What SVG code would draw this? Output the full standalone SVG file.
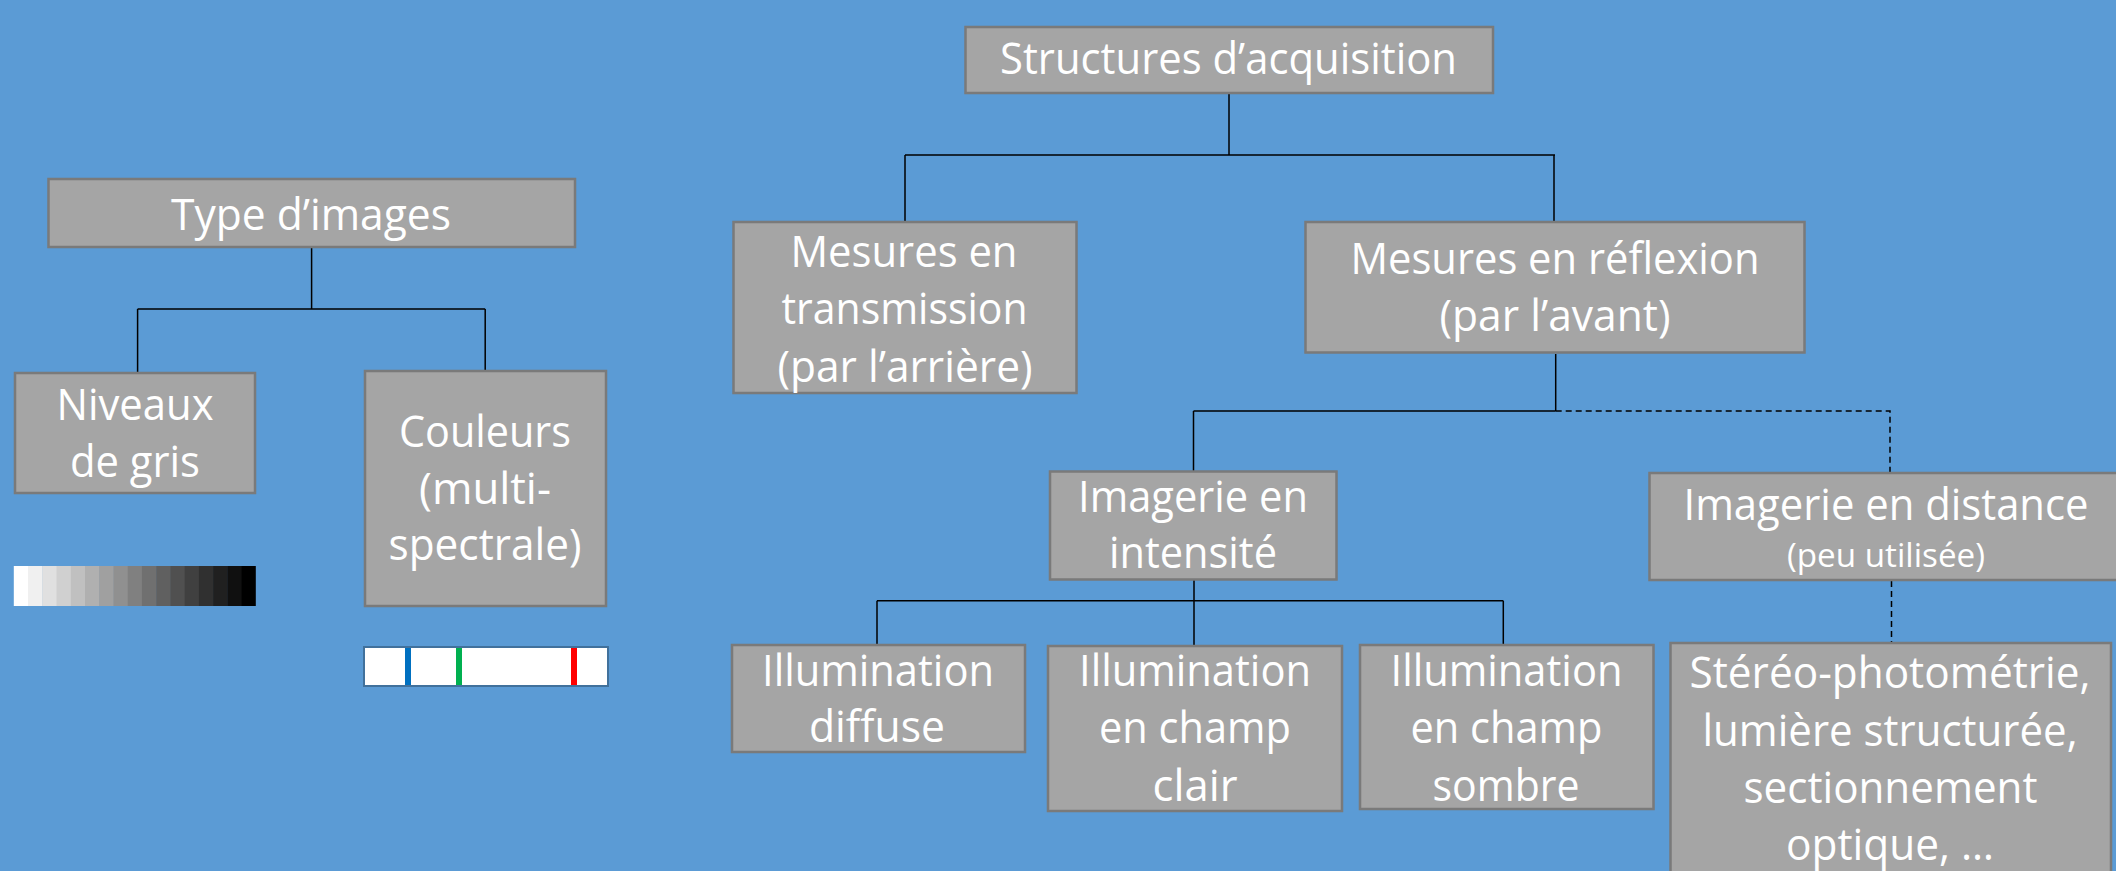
<svg xmlns="http://www.w3.org/2000/svg" width="2116" height="871" viewBox="0 0 2116 871">
<style>
.box{fill:#a5a5a5;stroke:#7a7a7a;stroke-width:2.5}
.t{font-family:"Open Sans","Noto Sans",sans-serif;font-size:44px;fill:#ffffff;text-anchor:middle}
.s{font-size:32px}
.c{fill:none;stroke:#000000;stroke-width:1.5}
.d{stroke-dasharray:6 4}
</style>
<rect x="0" y="0" width="2116" height="871" fill="#5b9bd5"/>
<g id="connectors">
<path class="c" d="M311.6,248V309M137.6,309H485.2M137.6,309V372M485.2,309V370"/>
<path class="c" d="M1229,94V155M905,155H1555M905,155V221M1554,155V221"/>
<path class="c" d="M1555.7,354V411M1193.5,411H1555.7M1193.5,411V471"/>
<path class="c d" d="M1555.7,411H1890V472"/>
<path class="c d" d="M1891.5,581V642"/>
<path class="c" d="M1194,580V645M877,600.7H1503.3M877,600.7V644M1503.3,600.7V644"/>
</g>
<g id="type-images">
<rect class="box" x="48.5" y="179" width="526.5" height="68"/>
<text class="t" x="311" y="230" textLength="280" lengthAdjust="spacingAndGlyphs">Type d’images</text>
</g>
<g id="niveaux-gris">
<rect class="box" x="15" y="373" width="240" height="120"/>
<text class="t" x="135" y="420" textLength="157" lengthAdjust="spacingAndGlyphs">Niveaux</text>
<text class="t" x="135" y="477" textLength="130" lengthAdjust="spacingAndGlyphs">de gris</text>
</g>
<g id="couleurs">
<rect class="box" x="365" y="371" width="241" height="235"/>
<text class="t" x="485" y="447" textLength="172" lengthAdjust="spacingAndGlyphs">Couleurs</text>
<text class="t" x="485" y="503.5" textLength="132" lengthAdjust="spacingAndGlyphs">(multi-</text>
<text class="t" x="485" y="560" textLength="193" lengthAdjust="spacingAndGlyphs">spectrale)</text>
</g>
<g id="grayscale">
<rect x="13.8" y="566" width="14.7" height="40" fill="#ffffff"/>
<rect x="28.0" y="566" width="14.7" height="40" fill="#f0f0f0"/>
<rect x="42.3" y="566" width="14.7" height="40" fill="#e0e0e0"/>
<rect x="56.5" y="566" width="14.7" height="40" fill="#d0d0d0"/>
<rect x="70.8" y="566" width="14.7" height="40" fill="#c0c0c0"/>
<rect x="85.0" y="566" width="14.7" height="40" fill="#b0b0b0"/>
<rect x="99.2" y="566" width="14.7" height="40" fill="#a0a0a0"/>
<rect x="113.5" y="566" width="14.7" height="40" fill="#909090"/>
<rect x="127.7" y="566" width="14.7" height="40" fill="#808080"/>
<rect x="141.9" y="566" width="14.7" height="40" fill="#707070"/>
<rect x="156.2" y="566" width="14.7" height="40" fill="#606060"/>
<rect x="170.4" y="566" width="14.7" height="40" fill="#505050"/>
<rect x="184.7" y="566" width="14.7" height="40" fill="#404040"/>
<rect x="198.9" y="566" width="14.7" height="40" fill="#303030"/>
<rect x="213.1" y="566" width="14.7" height="40" fill="#202020"/>
<rect x="227.4" y="566" width="14.7" height="40" fill="#101010"/>
<rect x="241.6" y="566" width="14.2" height="40" fill="#000000"/>
</g>
<g id="spectrum">
<rect x="364" y="647" width="244" height="39" fill="#ffffff" stroke="#41719c" stroke-width="2"/>
<rect x="405" y="648" width="6" height="37" fill="#0070c0"/>
<rect x="456" y="648" width="6" height="37" fill="#00b050"/>
<rect x="571" y="648" width="6" height="37" fill="#ff0000"/>
</g>
<g id="structures">
<rect class="box" x="965.5" y="27" width="527.5" height="66"/>
<text class="t" x="1228.5" y="74" textLength="457" lengthAdjust="spacingAndGlyphs">Structures d’acquisition</text>
</g>
<g id="transmission">
<rect class="box" x="733.5" y="222" width="343" height="171"/>
<text class="t" x="904" y="266.5" textLength="227" lengthAdjust="spacingAndGlyphs">Mesures en</text>
<text class="t" x="904.5" y="324" textLength="246" lengthAdjust="spacingAndGlyphs">transmission</text>
<text class="t" x="905" y="381.5" textLength="255" lengthAdjust="spacingAndGlyphs">(par l’arrière)</text>
</g>
<g id="reflexion">
<rect class="box" x="1305.5" y="222" width="499" height="130.5"/>
<text class="t" x="1555" y="274" textLength="409" lengthAdjust="spacingAndGlyphs">Mesures en réflexion</text>
<text class="t" x="1555" y="331" textLength="231" lengthAdjust="spacingAndGlyphs">(par l’avant)</text>
</g>
<g id="intensite">
<rect class="box" x="1050" y="471.5" width="286.5" height="108"/>
<text class="t" x="1193" y="511.7" textLength="230" lengthAdjust="spacingAndGlyphs">Imagerie en</text>
<text class="t" x="1193" y="567.5" textLength="168" lengthAdjust="spacingAndGlyphs">intensité</text>
</g>
<g id="distance">
<rect class="box" x="1649.5" y="473" width="470" height="107"/>
<text class="t" x="1886" y="520" textLength="405" lengthAdjust="spacingAndGlyphs">Imagerie en distance</text>
<text class="t s" x="1886" y="567.3" textLength="198" lengthAdjust="spacingAndGlyphs">(peu utilisée)</text>
</g>
<g id="diffuse">
<rect class="box" x="732" y="645" width="293" height="107"/>
<text class="t" x="878" y="686" textLength="232" lengthAdjust="spacingAndGlyphs">Illumination</text>
<text class="t" x="877" y="742.3" textLength="136" lengthAdjust="spacingAndGlyphs">diffuse</text>
</g>
<g id="champ-clair">
<rect class="box" x="1048" y="646" width="294" height="165"/>
<text class="t" x="1195" y="686" textLength="232" lengthAdjust="spacingAndGlyphs">Illumination</text>
<text class="t" x="1195" y="743.3" textLength="192" lengthAdjust="spacingAndGlyphs">en champ</text>
<text class="t" x="1195" y="800.7" textLength="85" lengthAdjust="spacingAndGlyphs">clair</text>
</g>
<g id="champ-sombre">
<rect class="box" x="1360" y="645" width="293.5" height="164"/>
<text class="t" x="1506.5" y="686" textLength="232" lengthAdjust="spacingAndGlyphs">Illumination</text>
<text class="t" x="1506.5" y="743.3" textLength="192" lengthAdjust="spacingAndGlyphs">en champ</text>
<text class="t" x="1506" y="800.7" textLength="147" lengthAdjust="spacingAndGlyphs">sombre</text>
</g>
<g id="stereo">
<rect class="box" x="1670.5" y="643" width="440.5" height="240"/>
<text class="t" x="1890" y="688.3" textLength="401" lengthAdjust="spacingAndGlyphs">Stéréo-photométrie,</text>
<text class="t" x="1890" y="746" textLength="375" lengthAdjust="spacingAndGlyphs">lumière structurée,</text>
<text class="t" x="1890.5" y="803.3" textLength="294" lengthAdjust="spacingAndGlyphs">sectionnement</text>
<text class="t" x="1890" y="860" textLength="208" lengthAdjust="spacingAndGlyphs">optique, …</text>
</g>
</svg>
